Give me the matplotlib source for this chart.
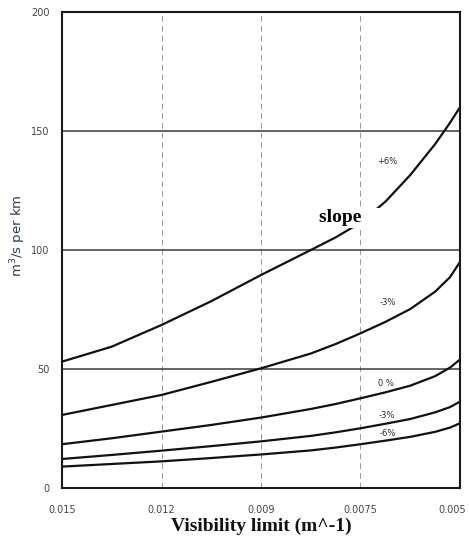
import matplotlib.pyplot as plt
from matplotlib.transforms import ScaledTranslation

# visibility limit axis, equally spaced tick labels
tick_pos = [0, 1, 2, 3, 4]
tick_labels = ['0.015', '0.012', '0.009', '0.0075', '0.005']

# positions along the axis where the curves were read
x_pos = [0, 0.5, 1, 1.5, 2, 2.5, 2.75, 3, 3.25, 3.5, 3.75, 3.9, 4]

# flow per km for each slope
flow_p6 = [53.1, 59.4, 68.5, 78.5, 89.5, 100.0, 105.3, 111.5, 120.3, 131.5, 144.5, 153.5, 160.0]
flow_p3 = [30.7, 34.9, 39.1, 44.6, 50.3, 56.5, 60.5, 65.0, 69.8, 75.2, 82.5, 88.6, 95.0]
flow_0 = [18.4, 20.9, 23.7, 26.5, 29.6, 33.2, 35.3, 37.7, 40.2, 43.0, 47.0, 50.6, 54.0]
flow_m3 = [12.2, 13.9, 15.7, 17.6, 19.6, 21.9, 23.4, 25.1, 27.0, 29.0, 31.8, 34.0, 36.3]
flow_m6 = [9.0, 10.1, 11.2, 12.6, 14.1, 15.8, 17.0, 18.4, 19.9, 21.5, 23.6, 25.4, 27.2]

curve_labels = ['+6%', '-3%', '0 %', '-3%', '-6%']
label_x = [3.27, 3.27, 3.26, 3.26, 3.27]
label_y = [137, 78, 44, 30.5, 23]

fig = plt.figure(figsize=(4.69, 5.51), dpi=100)
ax = fig.add_axes([0.1322, 0.1143, 0.8486, 0.8639])

# grid: dashed verticals, solid horizontals
for xv in tick_pos[1:-1]:
    ax.axvline(xv, color='#9a9a9a', lw=0.7, ls=(0, (6, 4)), zorder=1)
for yv in [50, 100, 150]:
    ax.axhline(yv, color='#3a3a3a', lw=1.1, zorder=1)

for series in [flow_p6, flow_p3, flow_0, flow_m3, flow_m6]:
    ax.plot(x_pos, series, color='#111111', lw=1.6,
            solid_capstyle='round', solid_joinstyle='round', zorder=2)

for lab, lx, ly in zip(curve_labels, label_x, label_y):
    ax.text(lx, ly, lab, fontsize=6, color='#2a2a2a', ha='center', va='center',
            zorder=3)

ax.text(2.58, 113.5, 'slope     ', fontsize=14, fontweight='bold',
        family='Liberation Serif', ha='left', va='center', zorder=4,
        bbox=dict(facecolor='white', edgecolor='none', pad=1.0))

ax.set_xlim(0, 4)
ax.set_ylim(0, 200)
ax.set_xticks(tick_pos)
ax.set_xticklabels(tick_labels)
ax.set_yticks([0, 50, 100, 150, 200])
ax.tick_params(length=0, labelsize=7, labelcolor='#444444')
ax.tick_params(axis='x', pad=12)
ax.tick_params(axis='y', pad=9)

# pull the last x label back inside the figure
last = ax.get_xticklabels()[-1]
last.set_transform(last.get_transform() + ScaledTranslation(-8 / 100, 0, fig.dpi_scale_trans))

for sp in ax.spines.values():
    sp.set_linewidth(1.5)
    sp.set_color('#1a1a1a')

ax.set_ylabel('m$^3$/s per km', fontsize=9.5, color='#2b3d4f')
ax.yaxis.set_label_coords(-0.085, 0.53)
ax.set_xlabel('Visibility limit (m^-1)', fontsize=14, fontweight='bold',
              family='Liberation Serif', color='#111111', labelpad=2)

plt.savefig('out.png', dpi=100)
